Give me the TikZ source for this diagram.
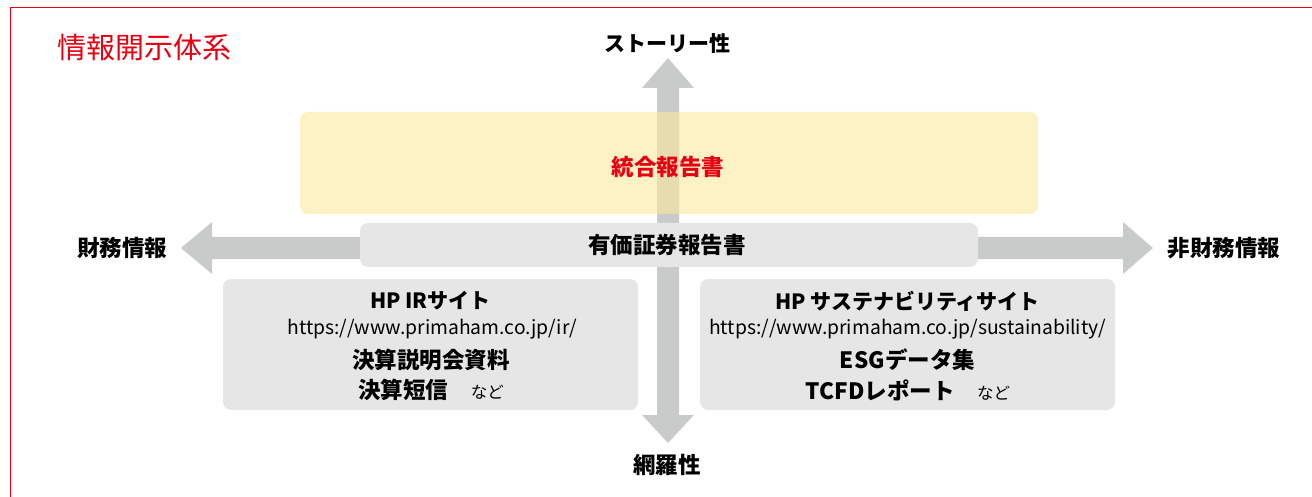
\documentclass[tikz,border=0pt]{standalone}
\usepackage{fontspec}
\setmainfont{Noto Sans CJK JP}
\usetikzlibrary{positioning}
\definecolor{primared}{HTML}{E60012}
\definecolor{axisgray}{HTML}{C9CACA}
\definecolor{boxgray}{HTML}{E6E6E6}
\definecolor{reportyellow}{HTML}{FBE7A0}
\tikzset{
  yellowbox/.style={fill=reportyellow, fill opacity=0.6, rounded corners=8pt, inner sep=0pt},
  graybox/.style={fill=boxgray, rounded corners=8pt, inner sep=0pt},
  axislabel/.style={font=\bfseries\fontsize{22.5}{26}\selectfont, inner sep=0pt},
  boxhead/.style={font=\bfseries\fontsize{21}{25}\selectfont, inner sep=0pt},
  boxitem/.style={font=\bfseries\fontsize{22.5}{26}\selectfont, inner sep=0pt},
  urltext/.style={font=\fontsize{19.3}{23}\selectfont, inner sep=0pt},
}
\newcommand\etc{\quad{\mdseries\fontsize{16.5}{20}\selectfont など}}

\begin{document}
\begin{tikzpicture}[x=1pt,y=-1pt]
  \useasboundingbox (0,0) rectangle (1312,497);
  %%%%% frame and title
  \draw[primared, line width=1.5pt] (10.5,497) -- (10.5,7.5) -- (1312,7.5);
  \node[anchor=west, inner sep=0pt, text=primared, font=\fontsize{29}{34}\selectfont] (title) at (57,48) {情報開示体系};

  %%%%% axes
  \fill[axisgray] (181,248) -- (212,222) -- (212,237) -- (1123,237) -- (1123,222)
    -- (1153,248) -- (1123,274) -- (1123,259) -- (212,259) -- (212,274) -- cycle;
  \fill[axisgray] (668,58) -- (694,88) -- (679,88) -- (679,415) -- (694,415)
    -- (668,443) -- (642,415) -- (657,415) -- (657,88) -- (642,88) -- cycle;

  \node[axislabel, font=\bfseries\fontsize{21}{25}\selectfont] (story) at (667,44) {ストーリー性};
  \node[axislabel] (cover) at (667,465) {網羅性};
  \node[axislabel] (fin) at (122,248) {財務情報};
  \node[axislabel] (nonfin) at (1224,248) {非財務情報};

  %%%%% reports
  \node[yellowbox, minimum width=738pt, minimum height=102pt] (integ) at (669,163) {};
  \node[axislabel, text=primared] (integtext) at (668,167) {統合報告書};

  \node[graybox, minimum width=618pt, minimum height=44pt] (secrep) at (669,245) {};
  \node[axislabel] (sectext) at (667,245) {有価証券報告書};

  \node[graybox, minimum width=415pt, minimum height=131pt] (irbox) at (430.5,344.5) {};
  \node[boxhead] (irhead) at (430.5,301) {HP IRサイト};
  \node[urltext] (irurl) at (432,329) {https://www.primaham.co.jp/ir/};
  \node[boxitem] (irdoc) at (431,360) {決算説明会資料};
  \node[boxitem] (irshort) at (431,390) {決算短信\etc};

  \node[graybox, minimum width=415pt, minimum height=131pt] (susbox) at (907.5,344.5) {};
  \node[boxhead] (sushead) at (907.5,301) {HP サステナビリティサイト};
  \node[urltext] (susurl) at (907.5,329) {https://www.primaham.co.jp/sustainability/};
  \node[boxitem] (esg) at (907.5,360) {ESGデータ集};
  \node[boxitem] (tcfd) at (908,390) {TCFDレポート\etc};
\end{tikzpicture}
\end{document}
